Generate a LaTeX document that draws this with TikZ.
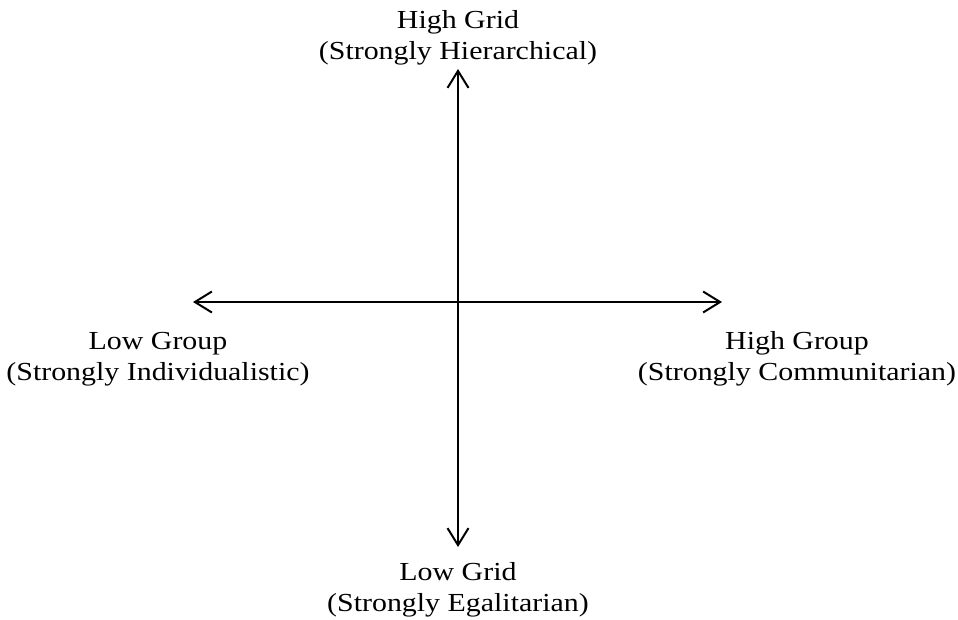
\documentclass[tikz,border=0pt]{standalone}
\usepackage{fontspec}
\setmainfont{Liberation Serif}[FakeStretch=1.15]
\usetikzlibrary{arrows.meta}
\begin{document}
\begin{tikzpicture}[x=1pt,y=-1pt,
  tip/.style={Straight Barb[length=17pt,width=21pt,line width=2pt]},
  axis/.style={line width=2pt,{Straight Barb[length=17pt,width=21pt,line width=2pt]}-{Straight Barb[length=17pt,width=21pt,line width=2pt]}},
  lab/.style={align=center,font=\fontsize{26}{30.5}\selectfont,inner sep=0pt}]
\useasboundingbox[fill=white] (0,0) rectangle (958,619);
\coordinate (top) at (458,69);
\coordinate (bot) at (458,547);
\coordinate (left) at (193,302);
\coordinate (right) at (722,302);
\draw[axis] (bot) -- (top);
\draw[axis] (left) -- (right);
\node[lab] (hg) at (458,38) {High Grid\\(Strongly Hierarchical)};
\node[lab] (lg) at (458,590) {Low Grid\\(Strongly Egalitarian)};
\node[lab] (lgr) at (158,359) {Low Group\\(Strongly Individualistic)};
\node[lab] (hgr) at (797,359) {High Group\\(Strongly Communitarian)};
\end{tikzpicture}
\end{document}
